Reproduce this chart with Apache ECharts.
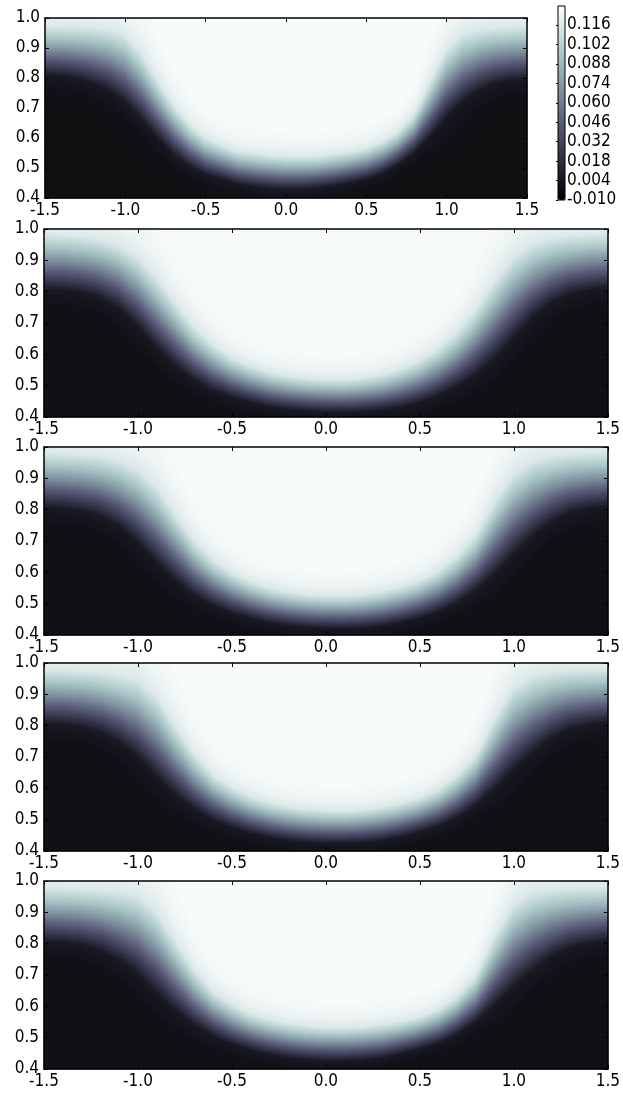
<!DOCTYPE html>
<html>
<head>
<meta charset="utf-8">
<script src="https://cdn.jsdelivr.net/npm/echarts@6/dist/echarts.min.js"></script>
<style>
html,body{margin:0;padding:0;background:#ffffff;}
#chart{width:623px;height:1097px;}
</style>
</head>
<body>
<div id="chart"></div>
<script>
const edgeX = [-1.5,-1.4,-1.3,-1.2,-1.1,-1.0,-0.9,-0.8,-0.7,-0.6,-0.5,-0.4,-0.3,-0.2,-0.1,0.0,0.1,0.2,0.3,0.4,0.5,0.6,0.7,0.8,0.9,1.0,1.1,1.2,1.3,1.4,1.5];

// lower edge: y where the dark region ends; upper edge: y where near-white begins
const lowerEdge1 = [0.807,0.805,0.797,0.781,0.757,0.718,0.662,0.600,0.546,0.506,0.478,0.462,0.446,0.437,0.431,0.428,0.429,0.433,0.440,0.450,0.462,0.481,0.511,0.551,0.604,0.668,0.720,0.757,0.780,0.791,0.796];
const upperEdge1 = [0.974,0.973,0.972,0.970,0.964,0.945,0.885,0.795,0.712,0.647,0.601,0.578,0.558,0.550,0.544,0.540,0.539,0.540,0.548,0.556,0.567,0.589,0.622,0.680,0.790,0.895,0.948,0.964,0.970,0.972,0.974];
const lowerEdge2 = [0.805,0.805,0.797,0.780,0.746,0.689,0.620,0.562,0.516,0.484,0.462,0.446,0.432,0.424,0.419,0.416,0.415,0.417,0.422,0.431,0.446,0.467,0.496,0.535,0.586,0.651,0.716,0.764,0.792,0.805,0.811];
const upperEdge2 = [0.986,0.983,0.978,0.970,0.950,0.912,0.845,0.765,0.688,0.632,0.592,0.565,0.545,0.532,0.525,0.521,0.521,0.526,0.537,0.556,0.582,0.620,0.673,0.745,0.838,0.915,0.957,0.973,0.980,0.984,0.986];
const lowerEdge3 = [0.806,0.804,0.796,0.779,0.747,0.695,0.630,0.572,0.526,0.493,0.470,0.453,0.439,0.430,0.424,0.421,0.420,0.422,0.428,0.439,0.454,0.474,0.502,0.541,0.594,0.656,0.714,0.760,0.790,0.804,0.810];
const upperEdge3 = [0.984,0.981,0.977,0.972,0.958,0.930,0.875,0.788,0.702,0.641,0.600,0.572,0.552,0.539,0.531,0.527,0.527,0.531,0.541,0.555,0.575,0.606,0.654,0.722,0.830,0.918,0.958,0.974,0.980,0.983,0.984];
const lowerEdge4 = [0.805,0.803,0.795,0.778,0.747,0.700,0.637,0.579,0.533,0.499,0.475,0.457,0.443,0.433,0.427,0.424,0.424,0.427,0.433,0.445,0.460,0.479,0.506,0.546,0.598,0.658,0.713,0.759,0.789,0.802,0.810];
const upperEdge4 = [0.982,0.980,0.977,0.973,0.963,0.948,0.895,0.800,0.710,0.645,0.604,0.575,0.556,0.543,0.535,0.531,0.530,0.534,0.542,0.554,0.571,0.598,0.643,0.708,0.825,0.925,0.962,0.975,0.980,0.981,0.982];
const lowerEdge5 = [0.805,0.803,0.795,0.778,0.747,0.704,0.643,0.586,0.540,0.505,0.480,0.461,0.446,0.436,0.429,0.426,0.426,0.429,0.435,0.449,0.464,0.482,0.510,0.550,0.604,0.661,0.714,0.758,0.787,0.801,0.810];
const upperEdge5 = [0.981,0.979,0.977,0.974,0.968,0.955,0.905,0.810,0.717,0.649,0.608,0.578,0.560,0.547,0.539,0.535,0.534,0.537,0.544,0.553,0.568,0.592,0.634,0.700,0.825,0.930,0.968,0.977,0.980,0.981,0.981];

// field value across the interface (s = 0 at lower edge, s = 1 at upper edge)
const profileS = [-0.6,-0.3,0.0,0.25,0.5,0.75,1.0,1.3,1.8];
const profileV = [0.000,0.001,0.006,0.036,0.066,0.094,0.116,0.123,0.127];

const xTicks = [-1.5,-1.0,-0.5,0.0,0.5,1.0,1.5];
const yTicks = [0.4,0.5,0.6,0.7,0.8,0.9,1.0];
const colorbarTicks = [-0.010,0.004,0.018,0.032,0.046,0.060,0.074,0.088,0.102,0.116];
const colorMin = -0.010;
const colorMax = 0.1297;
const boneColors = ['#000000','#16161f','#2d2d3e','#43435d','#595c79','#707b8f','#869aa6','#9cb8bc','#b9d2d2','#dce9e9','#ffffff'];

const panels = [
  {lower: lowerEdge1, upper: upperEdge1},
  {lower: lowerEdge2, upper: upperEdge2},
  {lower: lowerEdge3, upper: upperEdge3},
  {lower: lowerEdge4, upper: upperEdge4},
  {lower: lowerEdge5, upper: upperEdge5}
];
// plot rectangles (pixels) and cell counts chosen so cells land on whole pixels
const rects = [
  {left:45, top:18, width:482, height:180, nx:241, ny:90},
  {left:44, top:229, width:564, height:188, nx:282, ny:94},
  {left:44, top:447, width:564, height:188, nx:282, ny:94},
  {left:44, top:663, width:564, height:188, nx:282, ny:94},
  {left:44, top:881, width:564, height:188, nx:282, ny:94}
];

const FONT = "'DejaVu Sans Condensed','DejaVu Sans',sans-serif";
const X0 = -1.5, X1 = 1.5, Y0 = 0.4, Y1 = 1.0;

function interp(xs, ys, x) {
  if (x <= xs[0]) return ys[0];
  const n = xs.length;
  if (x >= xs[n - 1]) return ys[n - 1];
  let k = 0;
  while (k < n - 2 && x > xs[k + 1]) k++;
  const t = (x - xs[k]) / (xs[k + 1] - xs[k]);
  return ys[k] + t * (ys[k + 1] - ys[k]);
}

function categories(a, b, n) {
  const out = [];
  for (let i = 0; i < n; i++) out.push((a + (i + 0.5) * (b - a) / n).toFixed(5));
  return out;
}

function buildCells(panel, xCats, yCats) {
  const cells = [];
  for (let i = 0; i < xCats.length; i++) {
    const x = parseFloat(xCats[i]);
    const L = interp(edgeX, panel.lower, x);
    const U = interp(edgeX, panel.upper, x);
    for (let j = 0; j < yCats.length; j++) {
      const y = parseFloat(yCats[j]);
      const s = (y - L) / (U - L);
      cells.push([i, j, +interp(profileS, profileV, s).toFixed(5)]);
    }
  }
  return cells;
}

function inList(list, v) {
  return list.some(t => Math.abs(t - v) < 1e-6);
}

const grid = [], xAxis = [], yAxis = [], series = [];
const lineStyle = {color: '#000', width: 1.5};
const tickStyle = {show: true, inside: true, length: 4, lineStyle: {color: '#000', width: 1}};
const labelStyle = {fontFamily: FONT, fontSize: 17, color: '#000'};

panels.forEach((panel, p) => {
  const r = rects[p];
  const xCats = categories(X0, X1, r.nx);
  const yCats = categories(Y0, Y1, r.ny);
  const gHeat = grid.length;
  grid.push({left: r.left, top: r.top, width: r.width, height: r.height, containLabel: false});
  const gAxes = grid.length;
  grid.push({left: r.left, top: r.top, width: r.width, height: r.height, containLabel: false});

  const xCatIdx = xAxis.length;
  xAxis.push({type: 'category', gridIndex: gHeat, data: xCats, show: false, boundaryGap: true});
  xAxis.push({type: 'value', gridIndex: gAxes, position: 'bottom', min: X0, max: X1, interval: 0.5, z: 5,
    axisLine: {show: true, onZero: false, lineStyle: lineStyle}, axisTick: tickStyle, splitLine: {show: false},
    axisLabel: Object.assign({margin: 4, formatter: v => inList(xTicks, v) ? v.toFixed(1) : ''}, labelStyle)});
  xAxis.push({type: 'value', gridIndex: gAxes, position: 'top', min: X0, max: X1, interval: 0.5, z: 5,
    axisLine: {show: true, onZero: false, lineStyle: lineStyle}, axisTick: tickStyle, splitLine: {show: false},
    axisLabel: {show: false}});

  const yCatIdx = yAxis.length;
  yAxis.push({type: 'category', gridIndex: gHeat, data: yCats, show: false, boundaryGap: true});
  yAxis.push({type: 'value', gridIndex: gAxes, position: 'left', min: Y0, max: Y1, interval: 0.1, z: 5,
    axisLine: {show: true, onZero: false, lineStyle: lineStyle}, axisTick: tickStyle, splitLine: {show: false},
    axisLabel: Object.assign({margin: 5, formatter: v => inList(yTicks, v) ? v.toFixed(1) : ''}, labelStyle)});
  yAxis.push({type: 'value', gridIndex: gAxes, position: 'right', min: Y0, max: Y1, interval: 0.1, z: 5,
    axisLine: {show: true, onZero: false, lineStyle: lineStyle}, axisTick: tickStyle, splitLine: {show: false},
    axisLabel: {show: false}});

  series.push({
    type: 'heatmap', xAxisIndex: xCatIdx, yAxisIndex: yCatIdx, data: buildCells(panel, xCats, yCats),
    progressive: 0, animation: false, silent: true,
    itemStyle: {borderWidth: 0}, emphasis: {disabled: true}
  });
});

// colorbar frame and tick labels
const gBar = grid.length;
grid.push({left: 558, top: 6, width: 7, height: 194, show: true, borderColor: '#000', borderWidth: 1,
  backgroundColor: 'transparent', z: 10});
xAxis.push({type: 'value', gridIndex: gBar, show: false, min: 0, max: 1});
yAxis.push({type: 'value', gridIndex: gBar, position: 'right', min: colorMin, max: colorMax, interval: 0.014, z: 10,
  axisLine: {show: false}, splitLine: {show: false},
  axisTick: {show: true, inside: true, length: 2, lineStyle: {color: '#000', width: 1}},
  axisLabel: Object.assign({margin: 2, showMaxLabel: false,
    formatter: v => inList(colorbarTicks, v) ? v.toFixed(3) : ''}, labelStyle)});

const chart = echarts.init(document.getElementById('chart'), null, {renderer: 'canvas'});
chart.setOption({
  animation: false,
  backgroundColor: '#ffffff',
  grid: grid,
  xAxis: xAxis,
  yAxis: yAxis,
  visualMap: {
    type: 'continuous', min: colorMin, max: colorMax, seriesIndex: [0, 1, 2, 3, 4],
    inRange: {color: boneColors}, calculable: false, orient: 'vertical',
    left: 558, top: 6, itemWidth: 7, itemHeight: 194, padding: 0, text: null,
    hoverLink: false, realtime: false
  },
  series: series
});
</script>
</body>
</html>
